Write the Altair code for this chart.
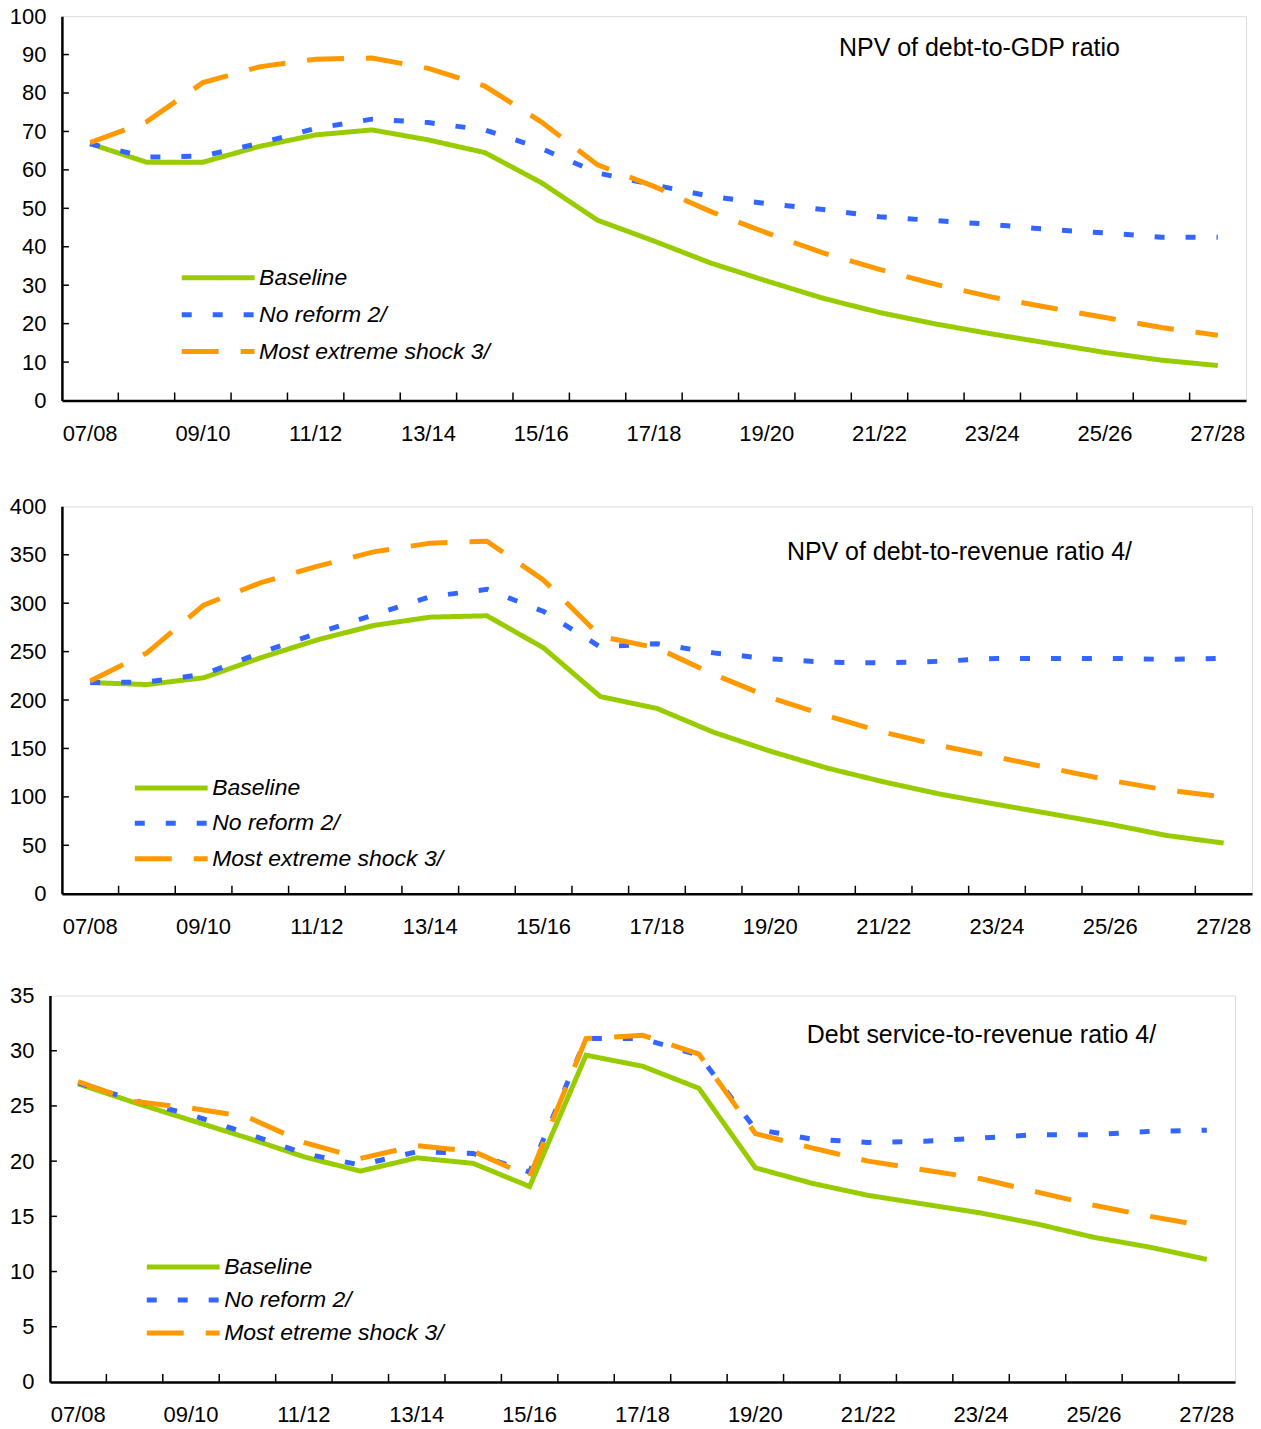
import altair as alt
import pandas as pd

years = ["07/08", "08/09", "09/10", "10/11", "11/12", "12/13", "13/14", "14/15",
         "15/16", "16/17", "17/18", "18/19", "19/20", "20/21", "21/22", "22/23",
         "23/24", "24/25", "25/26", "26/27", "27/28"]

# Panel 1: NPV of debt-to-GDP ratio
gdp_baseline = [66.8, 62.0, 62.0, 66.1, 69.1, 70.4, 67.8, 64.5, 56.7, 46.9, 41.5,
                35.8, 31.1, 26.6, 22.9, 19.9, 17.3, 14.9, 12.5, 10.5, 9.1]
gdp_noreform = [66.8, 63.3, 63.6, 66.9, 70.8, 73.2, 72.3, 70.4, 65.6, 59.2, 56.1,
                53.1, 51.2, 49.7, 47.8, 46.8, 45.8, 44.5, 43.6, 42.5, 42.5]
gdp_shock = [67.1, 72.5, 82.7, 86.8, 88.8, 89.1, 86.4, 81.8, 72.5, 61.3, 55.7,
             49.2, 43.6, 38.4, 34.1, 30.2, 26.9, 24.2, 21.6, 19.0, 17.0]

# Panel 2: NPV of debt-to-revenue ratio
rev_baseline = [218, 216, 223, 243.5, 262, 277, 285.6, 287, 253.8, 203.6, 191.3,
                166.7, 147.2, 129.8, 115.5, 102.8, 92.2, 82, 71.7, 60.1, 52.3]
rev_noreform = [218, 218.6, 226.5, 248.7, 269, 288, 306.7, 314.3, 291.4, 254.8, 258.2,
                248.7, 242.5, 239, 238.4, 240, 243, 243, 243, 242, 243]
rev_shock = [219.6, 248.7, 298, 321, 338, 353, 362, 364, 323.8, 265.8, 253.8,
             226.5, 202.6, 183.8, 166.7, 153, 141, 129, 117, 107, 100]

# Panel 3: Debt service-to-revenue ratio
ds_baseline = [27.0, 25.3, 23.7, 22.1, 20.4, 19.1, 20.3, 19.8, 17.7, 29.6, 28.6,
               26.6, 19.4, 18.0, 16.9, 16.1, 15.3, 14.3, 13.1, 12.2, 11.1]
ds_noreform = [27.1, 25.5, 24.2, 22.5, 20.7, 19.65, 20.85, 20.7, 19.0, 31.1, 31.1,
               29.6, 22.9, 22.0, 21.7, 21.8, 22.1, 22.4, 22.4, 22.7, 22.8]
ds_shock = [27.2, 25.4, 24.8, 24.0, 21.7, 20.25, 21.4, 20.9, 18.6, 31.1, 31.4,
            29.7, 22.5, 21.2, 20.0, 19.2, 18.4, 17.2, 16.0, 15.0, 14.1]

names_a = ["Baseline", "No reform 2/", "Most extreme shock 3/"]
names_b = ["Baseline", "No reform 2/", "Most etreme shock 3/"]

titles = ["NPV of debt-to-GDP ratio", "NPV of debt-to-revenue ratio 4/",
          "Debt service-to-revenue ratio 4/"]

yticks_1 = [0, 10, 20, 30, 40, 50, 60, 70, 80, 90, 100]
yticks_2 = [0, 50, 100, 150, 200, 250, 300, 350, 400]
yticks_3 = [0, 5, 10, 15, 20, 25, 30, 35]

colors = ["#99CC00", "#3366FF", "#FF9900"]
dashes = [[1, 0], [10, 21], [37, 22]]
FONT = "Liberation Sans"


def panel(title, names, series, yticks, width, height, lx, ly, rowpad, tx, ty):
    rows = []
    for name, vals in zip(names, series):
        for yr, v in zip(years, vals):
            rows.append({"year": yr, "value": v, "series": name})
    df = pd.DataFrame(rows)

    xscale = alt.Scale(type="band", domain=years, paddingInner=0, paddingOuter=0)
    xaxis = alt.Axis(values=years[::2], title=None, ticks=False, labelPadding=23,
                     labelAngle=0, domainWidth=2.5, domainColor="black",
                     labelFontSize=22, labelColor="black", labelFont=FONT, grid=False)
    yscale = alt.Scale(domain=[yticks[0], yticks[-1]], nice=False)
    yaxis = alt.Axis(values=yticks, title=None, ticks=False, labelPadding=16,
                     domainWidth=2.5, domainColor="black", labelFontSize=22,
                     labelColor="black", labelFont=FONT, grid=False)

    # wide horizontal stroke symbol: 73 px long drawn, compact row height
    leg = alt.Legend(title=None, orient="none", legendX=lx, legendY=ly,
                     symbolType="M-2,0H2", symbolSize=1332, symbolStrokeWidth=5,
                     symbolOffset=15.5,
                     labelFontSize=23, labelFontStyle="italic", labelFont=FONT,
                     labelColor="black", labelOffset=20, rowPadding=rowpad,
                     padding=0, labelLimit=400)

    lines = alt.Chart(df).mark_line(strokeWidth=5).encode(
        x=alt.X("year:N", scale=xscale, axis=xaxis, sort=years),
        y=alt.Y("value:Q", scale=yscale, axis=yaxis),
        color=alt.Color("series:N", scale=alt.Scale(domain=names, range=colors),
                        legend=leg, sort=names),
        strokeDash=alt.StrokeDash("series:N", scale=alt.Scale(domain=names, range=dashes),
                                  legend=leg, sort=names),
    )

    xt = alt.Chart(pd.DataFrame({"year": years[1:]})).mark_rule(
        color="black", strokeWidth=1.5).encode(
        x=alt.X("year:N", scale=xscale, axis=xaxis, bandPosition=0, sort=years),
        y=alt.value(height), y2=alt.value(height - 8))

    yt = alt.Chart(pd.DataFrame({"v": yticks[1:-1]})).mark_rule(
        color="black", strokeWidth=1.5).encode(
        y=alt.Y("v:Q", scale=yscale, axis=yaxis),
        x=alt.value(0), x2=alt.value(7))

    txt = alt.Chart(pd.DataFrame({"t": [title]})).mark_text(
        align="center", baseline="middle", fontSize=25, font=FONT, color="black").encode(
        text="t:N", x=alt.value(tx), y=alt.value(ty))

    return alt.layer(lines, xt, yt, txt).properties(width=width, height=height)


def spacer():
    return alt.Chart(pd.DataFrame({"a": [0]})).mark_point(opacity=0).encode(
        x=alt.value(0), y=alt.value(0)).properties(
        width=12, height=1, view=alt.ViewBackground(strokeWidth=0, stroke="transparent"))


p1 = panel(titles[0], names_a, [gdp_baseline, gdp_noreform, gdp_shock], yticks_1,
           1186, 385, 120, 241, 4, 919, 32)
p2 = panel(titles[1], names_a, [rev_baseline, rev_noreform, rev_shock], yticks_2,
           1192, 388, 73, 261, 2.5, 899, 46)
p3 = panel(titles[2], names_b, [ds_baseline, ds_noreform, ds_shock], yticks_3,
           1187, 387, 97, 251, 0, 933, 40)

res = dict(x="independent", y="independent", color="independent", strokeDash="independent")
leg_res = dict(color="independent", strokeDash="independent")

row1 = alt.hconcat(spacer(), p1, spacing=0, bounds="flush").resolve_scale(**res).resolve_legend(**leg_res)
row2 = alt.hconcat(spacer(), p2, spacing=0, bounds="flush").resolve_scale(**res).resolve_legend(**leg_res)

top = alt.vconcat(row1, row2, spacing=49).resolve_scale(**res).resolve_legend(**leg_res)
chart = alt.vconcat(top, p3, spacing=45).resolve_scale(**res).resolve_legend(**leg_res)

chart = chart.properties(padding={"top": -5, "left": 0, "right": 0, "bottom": 0},
                         background="white").configure_view(
    stroke="#222222", strokeWidth=1.5).configure(font=FONT)

chart.save("out.html", embed_options={"renderer": "svg", "actions": False})
